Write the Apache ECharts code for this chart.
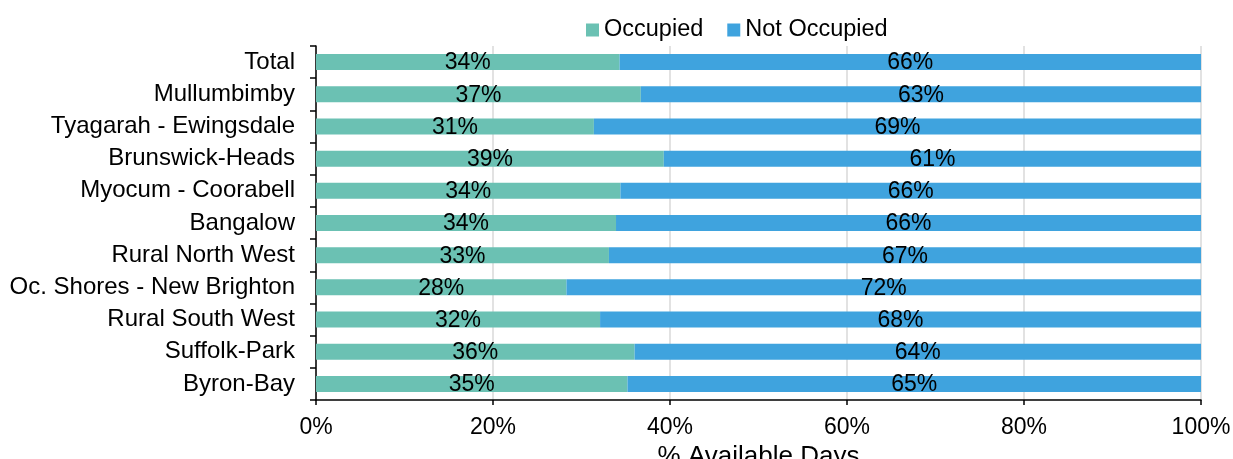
<!DOCTYPE html>
<html>
<head>
<meta charset="utf-8">
<script src="https://cdn.jsdelivr.net/npm/echarts@6/dist/echarts.min.js"></script>
<style>
	html, body { margin: 0; padding: 0; background: #fff; }
	#chart { width: 1233px; height: 459px; }
</style>
</head>
<body>
<div id="chart"></div>
<script>
	// categories listed bottom to top (category axis on y starts at bottom)
	const areas = ['Byron-Bay', 'Suffolk-Park', 'Rural South West', 'Oc. Shores - New Brighton',
		'Rural North West', 'Bangalow', 'Myocum - Coorabell', 'Brunswick-Heads',
		'Tyagarah - Ewingsdale', 'Mullumbimby', 'Total']
	const occupied = [35.2, 36.0, 32.1, 28.3, 33.1, 33.9, 34.4, 39.3, 31.4, 36.7, 34.3]
	const notOccupied = [64.8, 64.0, 67.9, 71.7, 66.9, 66.1, 65.6, 60.7, 68.6, 63.3, 65.7]
	const xTicks = [0, 20, 40, 60, 80, 100]

	const font = 'Liberation Sans, Arial, sans-serif'
	let mychart = echarts.init(document.getElementById('chart'))
	let labelStyle = {
		show: true,
		position: 'inside',
		color: '#000',
		fontSize: 23,
		fontFamily: font,
		offset: [0, 1],
		formatter: p => Math.round(p.value) + '%'
	}
	let option = {
		animation: false,
		legend: {
			top: 18,
			left: 586,
			padding: 0,
			icon: 'rect',
			itemWidth: 13,
			itemHeight: 13,
			itemGap: 24,
			textStyle: { fontSize: 23.5, fontFamily: font, color: '#000' },
			data: ['Occupied', 'Not Occupied']
		},
		grid: { left: 316, right: 32, top: 46, bottom: 59, containLabel: false, outerBoundsMode: 'none' },
		xAxis: {
			type: 'value',
			min: 0,
			max: 100,
			interval: 20,
			name: '% Available Days',
			nameLocation: 'middle',
			nameGap: 38,
			nameTextStyle: { fontSize: 26, fontFamily: font, color: '#000' },
			axisLine: { show: true, lineStyle: { color: '#000', width: 1.5 } },
			axisTick: { show: true, length: 5, lineStyle: { color: '#000', width: 1.5 } },
			axisLabel: {
				fontSize: 23, fontFamily: font, color: '#000', margin: 16,
				formatter: v => xTicks.includes(v) ? v + '%' : ''
			},
			splitLine: { show: true, lineStyle: { color: '#d9d9d9', width: 1.5 } }
		},
		yAxis: {
			type: 'category',
			data: areas,
			axisLine: { show: true, lineStyle: { color: '#000', width: 1.5 } },
			axisTick: { show: true, length: 6, lineStyle: { color: '#000', width: 1.5 } },
			axisLabel: { fontSize: 24, fontFamily: font, color: '#000', margin: 21 }
		},
		series: [
			{
				name: 'Occupied',
				type: 'bar',
				stack: 'days',
				barWidth: 16,
				data: occupied,
				itemStyle: { color: '#6bc1b3' },
				label: labelStyle
			},
			{
				name: 'Not Occupied',
				type: 'bar',
				stack: 'days',
				barWidth: 16,
				data: notOccupied,
				itemStyle: { color: '#3fa3de' },
				label: labelStyle
			}
		]
	}
	mychart.setOption(option)
</script>
</body>
</html>
